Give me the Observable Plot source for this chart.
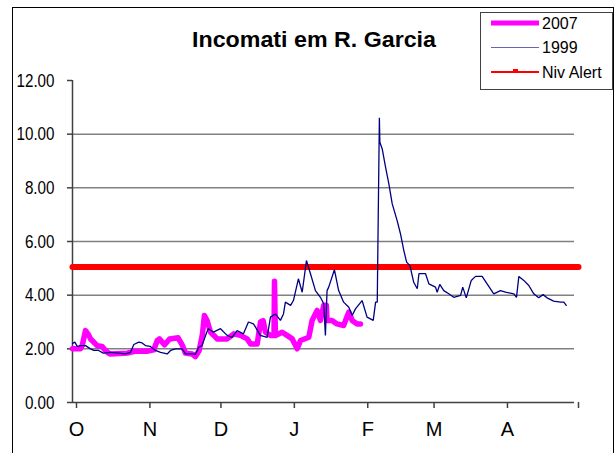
<!DOCTYPE html>
<html><head><meta charset="utf-8">
<script src="https://cdn.jsdelivr.net/npm/d3@7"></script>
<script src="https://cdn.jsdelivr.net/npm/@observablehq/plot@0.6"></script>
<style>body{margin:0;background:#fff}#chart svg{display:block}</style>
</head><body><div id="chart"></div>
<script>
const title = "Incomati em R. Garcia";
const monthLabels = ["O","N","D","J","F","M","A",""];
const monthStartDays = [0,31,61,92,123,151,182,212];
const yTicks = [0,2,4,6,8,10,12];
const gridValues = [2,4,6,8,10];
const seriesNames = ["2007","1999","Niv Alert"];

const days1999 = [0,1,2,3.4,5.5,7.6,9,11,13,16,19.5,22.4,24.5,25.9,28,29.4,30.8,32.9,35,37.2,40,41.4,43.5,46.3,47.7,50.5,51.9,53.3,54.7,56.2,57,57.4,59.5,62.5,65.3,67.4,69.5,72.2,74.3,76.4,77.3,79.3,82.2,83.6,85.7,87.8,89.1,89.9,92.1,93.3,95.4,97,98.8,100.5,102.6,104.7,106.1,106.8,107.5,108.2,110.6,112.4,114.5,116.7,118.1,119.5,122.3,124.4,127,128,128.7,129.6,129.8,130.8,132.2,133.6,135,137.1,138.5,139.9,141.1,142.5,144.1,145.6,146.3,149.1,150.5,153.3,154,155.1,156.8,158.9,161,163.9,164.8,166.3,168.4,170.2,173,175.1,177.9,180.7,182.9,186.4,187.5,188.5,190.6,192.7,194.8,196.9,198.7,200.4,203.2,206.1,207.5,208.5];
const level1999 = [2.20,2.25,2.09,2.12,2.12,2.00,1.94,1.94,1.84,1.87,1.84,1.81,1.87,2.16,2.25,2.22,2.12,2.09,1.94,1.87,1.81,1.94,2.00,2.00,1.81,1.81,1.79,2.06,2.12,2.50,2.68,2.75,2.62,2.75,2.50,2.43,2.68,2.56,3.00,2.93,2.81,2.50,2.43,3.18,3.30,3.06,3.30,3.74,3.62,3.80,4.61,4.11,5.29,4.80,4.17,3.92,3.68,2.50,4.17,4.30,4.95,4.17,3.74,3.55,3.24,3.49,3.80,3.18,3.06,3.74,3.74,10.61,9.70,9.45,8.77,8.15,7.41,6.78,6.29,5.67,5.23,5.10,4.48,4.24,4.80,4.80,4.42,4.30,4.11,4.40,4.17,4.05,3.92,3.99,4.30,3.90,4.55,4.70,4.70,4.42,4.05,4.17,4.11,4.05,3.92,4.70,4.55,4.36,4.05,3.90,4.02,3.90,3.78,3.74,3.74,3.62];

const days2007 = [0,3.4,4.1,5.5,6.9,7.6,8.3,10.4,12.5,13.9,15.2,16,23.1,26.3,31.4,34.3,35.8,36.7,38.9,41,44.6,46.3,47.7,50.5,51.9,53.5,54.9,55.7,56.8,58.3,59.7,61.1,65.3,68.1,70.9,73.8,75.2,78,79.4,80.5,81.5,83.6,85.1,85.3,85.7,88.5,90.6,92.8,94.9,96.3,99.8,101.2,103.3,104.7,106.1,107.2,107.5,109.6,111.7,114.5,116.7,118.1,120.2,121.6];
const level2007 = [2.00,2.00,2.12,2.68,2.50,2.37,2.31,2.12,2.09,1.94,1.84,1.81,1.84,1.91,1.91,1.96,2.31,2.37,2.15,2.37,2.41,2.15,1.84,1.81,1.71,1.94,2.56,3.24,3.06,2.62,2.50,2.37,2.37,2.56,2.50,2.37,2.18,2.18,3.00,3.05,2.62,2.50,2.50,4.52,2.50,2.62,2.50,2.37,2.00,2.31,2.43,3.06,3.43,3.06,3.62,3.62,3.06,3.06,2.93,2.87,3.37,3.06,2.93,2.93];

const alertDays = [0, 213.7];
const alertLevel = [5.05, 5.05];

const s1999 = days1999.map((d,i)=>({day:d, v:level1999[i]}));
const s2007 = days2007.map((d,i)=>({day:d, v:level2007[i]}));
const sAlert = alertDays.map((d,i)=>({day:d, v:alertLevel[i]}));
const labelOf = new Map(monthStartDays.map((d,i)=>[d, monthLabels[i]]));

const font = "'Liberation Sans', Arial, sans-serif";

const chart = Plot.plot({
  width: 616, height: 453,
  marginLeft: 72, marginRight: 42, marginTop: 80, marginBottom: 51,
  style: {background: "#fff", overflow: "visible"},
  x: {type: "linear", domain: [0, 212]},
  y: {domain: [0, 12]},
  marks: [
    Plot.ruleY(gridValues, {x1: 0, x2: 212, stroke: "#808080", strokeWidth: 1.5}),
    Plot.ruleY([0], {x1: 0, x2: 212, stroke: "#404040", strokeWidth: 1.5}),
    Plot.ruleX([0], {y1: 0, y2: 12, stroke: "#404040", strokeWidth: 1.5}),
    Plot.axisY({ticks: yTicks, tickSize: 5, tickPadding: 13, tickFormat: d3.format(".2f"),
      fontSize: 19, fontFamily: font, stroke: "#404040", strokeWidth: 1.5, fill: "#000", label: null}),
    Plot.axisX({ticks: monthStartDays, tickSize: 6, tickPadding: 13, tickFormat: d => labelOf.get(d),
      fontSize: 20, fontFamily: font, dx: 4, stroke: "#404040", strokeWidth: 1.5, fill: "#000", label: null}),
    Plot.line(sAlert, {x: "day", y: "v", stroke: "#ff0000", strokeWidth: 6}),
    Plot.line(s2007, {x: "day", y: "v", stroke: "#ff00ff", strokeWidth: 5.5, strokeLinejoin: "round", strokeLinecap: "round"}),
    Plot.line(s1999, {x: "day", y: "v", stroke: "#000080", strokeWidth: 1.3, strokeLinejoin: "miter"})
  ]
});

const svg = d3.select(chart);
svg.append("rect").attr("x", 12.5).attr("y", 7.5).attr("width", 601).attr("height", 470)
  .attr("fill", "none").attr("stroke", "#000").attr("stroke-width", 1);
svg.append("text").attr("x", 314).attr("y", 47).attr("text-anchor", "middle")
  .attr("font-family", font).attr("font-weight", "bold")
  .attr("font-size", 22).attr("textLength", 244).attr("lengthAdjust", "spacingAndGlyphs")
  .attr("fill", "#000").text(title);

const lg = svg.append("g");
lg.append("rect").attr("x", 480.5).attr("y", 12.5).attr("width", 132).attr("height", 77)
  .attr("fill", "#fff").attr("stroke", "#404040").attr("stroke-width", 1);
const legendStyles = [
  {stroke: "#ff00ff", w: 5, y: 23, o: 1},
  {stroke: "#000080", w: 1.2, y: 47.5, o: 0.6},
  {stroke: "#ff0000", w: 2, y: 72, o: 1}
];
legendStyles.forEach((s, i) => {
  lg.append("line").attr("x1", 491).attr("x2", 539).attr("y1", s.y).attr("y2", s.y)
    .attr("stroke", s.stroke).attr("stroke-width", s.w).attr("stroke-opacity", s.o);
  if (i === 2) lg.append("rect").attr("x", 513).attr("y", s.y - 3).attr("width", 5).attr("height", 4).attr("fill", "#ff0000");
  lg.append("text").attr("x", 542).attr("y", s.y).attr("dy", "0.36em").attr("text-anchor", "start")
    .attr("font-family", font).attr("font-size", 16).attr("fill", "#000")
    .text(seriesNames[i]);
});

document.getElementById("chart").appendChild(chart);

// condense y tick labels horizontally, as in the reference
svg.selectAll("g[aria-label='y-axis tick label'] text").each(function() {
  const w = this.getComputedTextLength();
  this.setAttribute("textLength", (w * 0.8).toFixed(1));
  this.setAttribute("lengthAdjust", "spacingAndGlyphs");
});
</script>
</body></html>
